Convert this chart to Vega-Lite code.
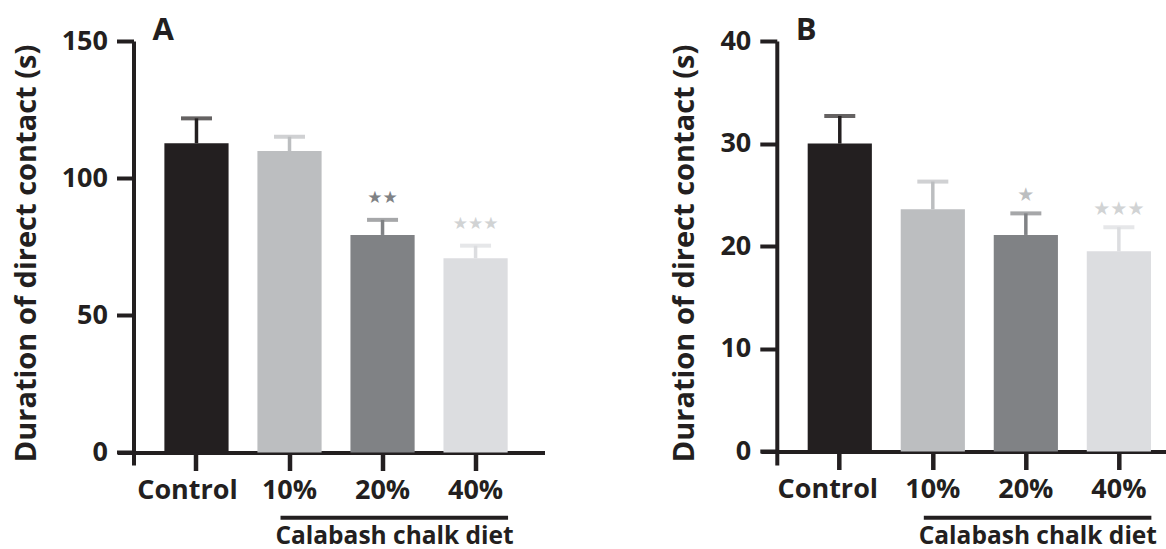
{
  "$schema": "https://vega.github.io/schema/vega-lite/v6.json",
  "background": "white",
  "padding": {"left": 11.5, "top": 14, "right": 0, "bottom": 0},
  "bounds": "flush",
  "spacing": 216.3,
  "datasets": {
    "panelA": [
      {"group": "Control", "mean": 112.7, "upper": 121.8, "stars": ""},
      {"group": "10%", "mean": 109.9, "upper": 115.1, "stars": ""},
      {"group": "20%", "mean": 79.3, "upper": 84.8, "stars": "★★"},
      {"group": "40%", "mean": 70.8, "upper": 75.4, "stars": "★★★"}
    ],
    "panelB": [
      {"group": "Control", "mean": 30.0, "upper": 32.7, "stars": ""},
      {"group": "10%", "mean": 23.6, "upper": 26.3, "stars": ""},
      {"group": "20%", "mean": 21.1, "upper": 23.2, "stars": "★"},
      {"group": "40%", "mean": 19.5, "upper": 21.85, "stars": "★★★"}
    ],
    "labels": [{"panelA": "A", "panelB": "B", "diet": "Calabash chalk diet"}]
  },
  "hconcat": [
    {
      "width": 427,
      "height": 424,
      "layer": [
        {
          "data": {"name": "panelA"},
          "mark": {"type": "bar"},
          "encoding": {
            "x": {
              "field": "group", "type": "nominal",
              "scale": {"domain": ["Control", "10%", "20%", "40%"], "paddingInner": 0.31, "paddingOuter": 0.45, "align": 0.56},
              "axis": {"orient": "bottom", "offset": -12.5, "tickSize": 18, "tickWidth": 4.5, "domainWidth": 4, "domainColor": "#231f20", "tickColor": "#231f20", "labelAngle": 0, "labelPadding": 6.5, "labelFont": "Open Sans", "labelFontWeight": "bold", "labelFontSize": 27, "labelColor": "#231f20", "title": null,
                "labelOffset": {"condition": {"test": "datum.value === 'Control'", "value": -9}, "value": 0}}
            },
            "y": {
              "field": "mean", "type": "quantitative",
              "scale": {"domain": [-4.56, 150], "nice": false, "zero": false},
              "axis": {"orient": "left", "values": [0, 50, 100, 150], "offset": -16, "tickSize": 17, "tickWidth": 4, "domainWidth": 4, "domainColor": "#231f20", "tickColor": "#231f20", "labelFont": "Open Sans", "labelFontWeight": "bold", "labelFontSize": 27, "labelColor": "#231f20", "labelPadding": 9, "title": "Duration of direct contact (s)", "titleFont": "Open Sans", "titleFontSize": 29, "titleFontWeight": "bold", "titleColor": "#231f20", "titlePadding": 20}
            },
            "y2": {"datum": 0},
            "color": {"field": "group", "type": "nominal", "scale": {"domain": ["Control", "10%", "20%", "40%"], "range": ["#231f20", "#bcbec0", "#808285", "#dcdde0"]}, "legend": null}
          }
        },
        {
          "data": {"name": "panelA"},
          "mark": {"type": "rule", "strokeWidth": 3.5},
          "encoding": {
            "x": {"field": "group", "type": "nominal"},
            "y": {"field": "mean", "type": "quantitative"},
            "y2": {"field": "upper"},
            "color": {"field": "group", "type": "nominal", "legend": null}
          }
        },
        {
          "data": {"name": "panelA"},
          "mark": {"type": "tick", "thickness": 4, "size": 31},
          "encoding": {
            "x": {"field": "group", "type": "nominal"},
            "y": {"field": "upper", "type": "quantitative"},
            "color": {"field": "group", "type": "nominal", "legend": null}
          }
        },
        {
          "data": {"name": "panelA"},
          "mark": {"type": "text", "font": "DejaVu Sans", "fontSize": 17, "baseline": "middle", "dy": -22},
          "encoding": {
            "x": {"field": "group", "type": "nominal"},
            "y": {"field": "upper", "type": "quantitative"},
            "text": {"field": "stars"},
            "color": {"condition": {"test": "datum.group === '20%'", "value": "#808285"}, "value": "#d1d3d4"}
          }
        },
        {
          "data": {"name": "labels"},
          "mark": {"type": "text", "font": "Open Sans", "fontWeight": "bold", "fontSize": 31, "baseline": "alphabetic", "align": "left", "dx": -44, "color": "#231f20"},
          "encoding": {
            "x": {"datum": "Control"},
            "y": {"datum": 150.4},
            "text": {"field": "panelA"}
          }
        },
        {
          "data": {"name": "labels"},
          "mark": {"type": "rule", "strokeWidth": 4, "color": "#231f20", "xOffset": -9, "x2Offset": 32.5},
          "encoding": {
            "x": {"datum": "10%"},
            "x2": {"datum": "40%"},
            "y": {"datum": -23.8}
          }
        },
        {
          "data": {"name": "labels"},
          "mark": {"type": "text", "font": "Open Sans", "fontWeight": "bold", "fontSize": 24.5, "baseline": "alphabetic", "align": "center", "dx": 12, "color": "#231f20"},
          "encoding": {
            "x": {"datum": "20%"},
            "y": {"datum": -33.3},
            "text": {"field": "diet"}
          }
        }
      ]
    },
    {
      "width": 427,
      "height": 424,
      "layer": [
        {
          "data": {"name": "panelB"},
          "mark": {"type": "bar"},
          "encoding": {
            "x": {
              "field": "group", "type": "nominal",
              "scale": {"domain": ["Control", "10%", "20%", "40%"], "paddingInner": 0.31, "paddingOuter": 0.45, "align": 0.56},
              "axis": {"orient": "bottom", "offset": -13.5, "tickSize": 18, "tickWidth": 4.5, "domainWidth": 4, "domainColor": "#231f20", "tickColor": "#231f20", "labelAngle": 0, "labelPadding": 6.5, "labelFont": "Open Sans", "labelFontWeight": "bold", "labelFontSize": 27, "labelColor": "#231f20", "title": null,
                "labelOffset": {"condition": {"test": "datum.value === 'Control'", "value": -12}, "value": 0}}
            },
            "y": {
              "field": "mean", "type": "quantitative",
              "scale": {"domain": [-1.32, 40], "nice": false, "zero": false},
              "axis": {"orient": "left", "values": [0, 10, 20, 30, 40], "offset": -16, "tickSize": 17, "tickWidth": 4, "domainWidth": 4, "domainColor": "#231f20", "tickColor": "#231f20", "labelFont": "Open Sans", "labelFontWeight": "bold", "labelFontSize": 27, "labelColor": "#231f20", "labelPadding": 9, "title": "Duration of direct contact (s)", "titleFont": "Open Sans", "titleFontSize": 29, "titleFontWeight": "bold", "titleColor": "#231f20", "titlePadding": 20}
            },
            "y2": {"datum": 0},
            "color": {"field": "group", "type": "nominal", "scale": {"domain": ["Control", "10%", "20%", "40%"], "range": ["#231f20", "#bcbec0", "#808285", "#dcdde0"]}, "legend": null}
          }
        },
        {
          "data": {"name": "panelB"},
          "mark": {"type": "rule", "strokeWidth": 3.5},
          "encoding": {
            "x": {"field": "group", "type": "nominal"},
            "y": {"field": "mean", "type": "quantitative"},
            "y2": {"field": "upper"},
            "color": {"field": "group", "type": "nominal", "legend": null}
          }
        },
        {
          "data": {"name": "panelB"},
          "mark": {"type": "tick", "thickness": 4, "size": 31},
          "encoding": {
            "x": {"field": "group", "type": "nominal"},
            "y": {"field": "upper", "type": "quantitative"},
            "color": {"field": "group", "type": "nominal", "legend": null}
          }
        },
        {
          "data": {"name": "panelB"},
          "mark": {"type": "text", "font": "DejaVu Sans", "fontSize": 19, "baseline": "middle", "dy": -18},
          "encoding": {
            "x": {"field": "group", "type": "nominal"},
            "y": {"field": "upper", "type": "quantitative"},
            "text": {"field": "stars"},
            "color": {"condition": {"test": "datum.group === '20%'", "value": "#bcbec0"}, "value": "#d1d3d4"}
          }
        },
        {
          "data": {"name": "labels"},
          "mark": {"type": "text", "font": "Open Sans", "fontWeight": "bold", "fontSize": 31, "baseline": "alphabetic", "align": "left", "dx": -44, "color": "#231f20"},
          "encoding": {
            "x": {"datum": "Control"},
            "y": {"datum": 40.1},
            "text": {"field": "panelB"}
          }
        },
        {
          "data": {"name": "labels"},
          "mark": {"type": "rule", "strokeWidth": 4, "color": "#231f20", "xOffset": -9, "x2Offset": 32.5},
          "encoding": {
            "x": {"datum": "10%"},
            "x2": {"datum": "40%"},
            "y": {"datum": -6.45}
          }
        },
        {
          "data": {"name": "labels"},
          "mark": {"type": "text", "font": "Open Sans", "fontWeight": "bold", "fontSize": 24.5, "baseline": "alphabetic", "align": "center", "dx": 12, "color": "#231f20"},
          "encoding": {
            "x": {"datum": "20%"},
            "y": {"datum": -9.03},
            "text": {"field": "diet"}
          }
        }
      ]
    }
  ],
  "config": {
    "view": {"stroke": null},
    "axis": {"grid": false},
    "font": "Open Sans"
  }
}
